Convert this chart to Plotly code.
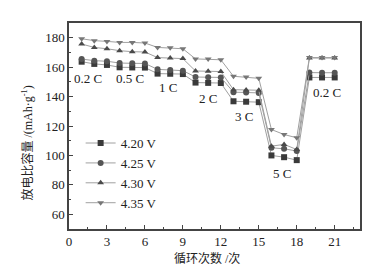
import plotly.graph_objects as go

cycles = list(range(1, 22))
v420 = [163.7, 162.2, 161.5, 159.9, 159.8, 159.7, 155.6, 155.5, 155.3, 149.5, 149.3, 149.2, 136.8, 136.5, 136.2, 100.0, 98.8, 96.8, 153.0, 153.0, 153.0]
v425 = [165.5, 164.4, 164.0, 162.8, 162.6, 162.5, 158.5, 158.0, 157.6, 153.3, 153.1, 153.0, 143.0, 142.8, 142.5, 105.2, 104.5, 103.0, 156.3, 156.2, 156.2]
v430 = [175.7, 173.4, 172.5, 171.2, 170.5, 170.3, 166.5, 166.2, 165.8, 157.4, 157.2, 157.0, 144.7, 144.5, 144.3, 106.3, 107.5, 104.0, 166.2, 166.2, 166.2]
v435 = [179.3, 178.0, 177.5, 176.8, 176.8, 176.4, 173.4, 173.2, 172.5, 165.6, 165.5, 165.0, 153.8, 153.3, 152.4, 117.6, 114.2, 112.0, 166.5, 166.5, 166.5]

series_names = ["4.20 V", "4.25 V", "4.30 V", "4.35 V"]
series_vals = [v420, v425, v430, v435]
symbols = ["square", "circle", "triangle-up", "triangle-down"]
marker_colors = ["#3a3a3a", "#555555", "#4a4a4a", "#777777"]

rate_labels = ["0.2 C", "0.5 C", "1 C", "2 C", "3 C", "5 C", "0.2 C"]
rate_x = [1.5, 4.8, 7.8, 11.0, 13.8, 16.8, 20.4]
rate_y = [152, 152, 146, 139, 126.5, 88, 143]

x_title = "循环次数 /次"
y_title = "放电比容量 /(mAh·g<sup>-1</sup>)"

FONT = "Liberation Serif, Noto Sans CJK SC"

fig = go.Figure()
for name, vals, sym, mc in zip(series_names, series_vals, symbols, marker_colors):
    fig.add_trace(go.Scatter(
        x=cycles, y=vals, mode="lines+markers", name=name,
        line=dict(color="#a0a0a0", width=1),
        marker=dict(symbol=sym, size=6, color=mc),
    ))

for t, xx, yy in zip(rate_labels, rate_x, rate_y):
    fig.add_annotation(x=xx, y=yy, text=t, showarrow=False,
                       font=dict(family="Liberation Serif", size=13, color="#222"))

fig.add_annotation(x=0.474, y=-0.141, xref="paper", yref="paper", text=x_title,
                   showarrow=False, xanchor="center", yanchor="middle",
                   font=dict(family=FONT, size=12, color="#222"))
fig.add_annotation(x=-0.144, y=0.415, xref="paper", yref="paper", text=y_title,
                   showarrow=False, textangle=-90, xanchor="center", yanchor="middle",
                   font=dict(family=FONT, size=12, color="#222"))

axis_common = dict(
    showgrid=False, zeroline=False, showline=True, linecolor="#444", linewidth=1.5,
    mirror=True, ticks="inside", ticklen=4, tickcolor="#444", tickwidth=1,
    tickfont=dict(family="Liberation Serif", size=13, color="#222"),
    automargin=False,
)

fig.update_xaxes(range=[0, 23], tickvals=[0, 3, 6, 9, 12, 15, 18, 21],
                 minor=dict(ticks="inside", dtick=1.5, tick0=0, ticklen=2, tickcolor="#444"),
                 **axis_common)
fig.update_yaxes(range=[50, 190], tickvals=[60, 80, 100, 120, 140, 160, 180],
                 minor=dict(ticks="inside", dtick=10, tick0=50, ticklen=2, tickcolor="#444"),
                 **axis_common)

fig.update_layout(
    width=380, height=271,
    margin=dict(l=69, r=20, t=23, b=42),
    plot_bgcolor="white", paper_bgcolor="white",
    showlegend=True,
    legend=dict(x=0.04, y=0.49, xanchor="left", yanchor="top",
                bgcolor="rgba(0,0,0,0)", tracegroupgap=0, itemwidth=30,
                font=dict(family="Liberation Serif", size=13, color="#222")),
)

fig.write_html("out.html", post_script="document.body.style.margin='0';",
               config={"displayModeBar": False})
